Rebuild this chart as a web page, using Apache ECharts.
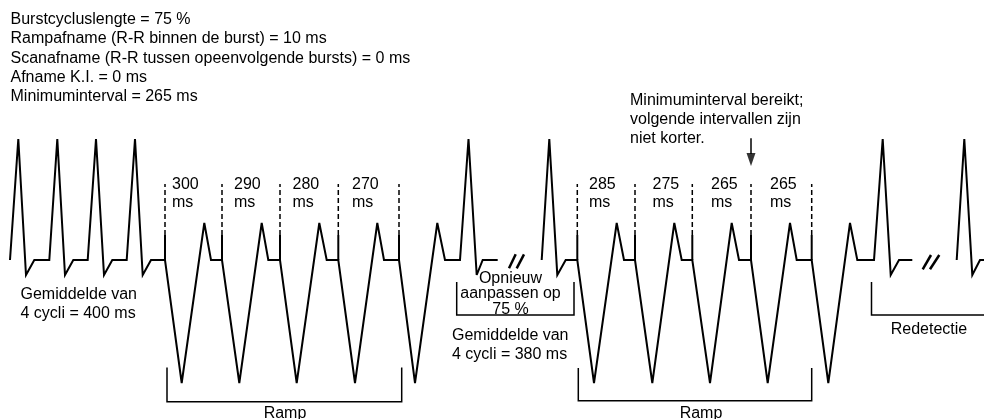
<!DOCTYPE html>
<html><head><meta charset="utf-8">
<script src="https://cdn.jsdelivr.net/npm/echarts@6/dist/echarts.min.js"></script>
<style>html,body{margin:0;padding:0;background:#fff}#c{width:984px;height:419px}</style>
</head><body><div id="c"></div>
<script>
// ECG trace: time (x) and amplitude (baseline = 0), per drawn segment
const traceA_t = [10,18.3,26,34.3, 49.3,57.3,65,73.3, 87.7,96,104,112.3, 126.7,135,142.7,151,
  165,181.7,204.3,211, 222,239.3,261.7,268.3, 280,296.7,319.3,326.7, 338.3,355,377.3,384, 399,415,437.3,445,
  460,468.5,476.7,482.7, 497.7];
const traceA_v = [0,121,-15,0, 0,121,-15,0, 0,121,-15,0, 0,121,-15,0,
  0,-123,37,0, 0,-123,37,0, 0,-123,37,0, 0,-123,37,0, 0,-123,37,0,
  0,121,-15,0, 0];
const traceB_t = [541.7,549.3,557.3,565.7, 577.3,594,616.7,624, 635,652.3,674.3,681.7, 692.3,710,731.7,739,
  751,767.7,790,796.7, 811.7,828.3,850,857.3, 874,882.7,890.7,899, 912.3];
const traceB_v = [0,121,-15,0, 0,-123,37,0, 0,-123,37,0, 0,-123,37,0,
  0,-123,37,0, 0,-123,37,0, 0,121,-15,0, 0];
const traceC_t = [956.7,964.3,972.3,980,984];
const traceC_v = [0,121,-15,0,0];

// pacing stimuli (burst pulses)
const ramp1Stimuli = [165,222,280,338.3,399];
const ramp2Stimuli = [577.3,635,692.3,751,811.7];
const ramp1Intervals = ['300','290','280','270'];
const ramp2Intervals = ['285','275','265','265'];
const stimulusHeight = 25;
const markerTop = 76;

// breaks in the trace (//)
const breakSlashes = [
  [[509,-8.3],[515.7,5.7]], [[516.7,-8.3],[524,5.7]],
  [[922.7,-9.3],[931,5]], [[930,-9.3],[939.3,5]]
];
// brackets
const bracketOpnieuw = [[456.7,-22],[456.7,-55],[574,-55],[574,-22]];
const bracketRamp1 = [[167,-107.5],[167,-141.7],[401.7,-141.7],[401.7,-107.5]];
const bracketRamp2 = [[578.3,-108],[578.3,-140.7],[811.7,-140.7],[811.7,-108]];
const bracketRedetectie = [[871.5,-22],[871.5,-55],[984,-55]];
// arrow to "minimuminterval reached"
const arrowShaft = [[751,121.7],[751,106]];
const arrowHead = [751,100.5];

const headerLines = [
  'Burstcycluslengte = 75 %',
  'Rampafname (R-R binnen de burst) = 10 ms',
  'Scanafname (R-R tussen opeenvolgende bursts) = 0 ms',
  'Afname K.I. = 0 ms',
  'Minimuminterval = 265 ms'
];
const noteLines = ['Minimuminterval bereikt;','volgende intervallen zijn','niet korter.'];

const zip = (t, v) => t.map((x, i) => [x, v[i]]);
const FONT = '16px "Liberation Sans", Arial, sans-serif';

const chart = echarts.init(document.getElementById('c'), null, {renderer: 'canvas'});

const stimSolid = [], stimDash = [];
ramp1Stimuli.concat(ramp2Stimuli).forEach(t => {
  stimSolid.push({coords: [[t, 0], [t, stimulusHeight]]});
  stimDash.push({coords: [[t, stimulusHeight], [t, markerTop]]});
});

const graphic = [];
function txt(x, y, text, align) {
  graphic.push({type: 'text', x: x, y: y, silent: true,
    style: {text: text, font: FONT, fill: '#000', textAlign: align || 'left', align: align || 'left',
            textVerticalAlign: 'middle', verticalAlign: 'middle'}});
}
const headerY = [19.7, 38.9, 58.1, 77.2, 96.4];
headerLines.forEach((s, i) => txt(10.5, headerY[i], s));
const noteY = [100.5, 119.7, 138.9];
noteLines.forEach((s, i) => txt(630, noteY[i], s));

const r1x = [172, 234, 292.5, 352];
const r2x = [589, 652.5, 711, 770];
ramp1Intervals.forEach((s, i) => { txt(r1x[i], 185, s); txt(r1x[i], 202.5, 'ms'); });
ramp2Intervals.forEach((s, i) => { txt(r2x[i], 185, s); txt(r2x[i], 202.5, 'ms'); });

txt(20.5, 294.5, 'Gemiddelde van');
txt(20.5, 313.3, '4 cycli = 400 ms');
txt(452, 336, 'Gemiddelde van');
txt(452, 354.8, '4 cycli = 380 ms');
txt(510.5, 278.5, 'Opnieuw', 'center');
txt(510.5, 294, 'aanpassen op', 'center');
txt(510.5, 309.5, '75 %', 'center');
txt(929, 329.3, 'Redetectie', 'center');
txt(285, 414, 'Ramp', 'center');
txt(701, 414, 'Ramp', 'center');

chart.setOption({
  animation: false,
  backgroundColor: '#ffffff',
  grid: {left: 0, right: 0, top: 0, bottom: 0},
  xAxis: {type: 'value', min: 0, max: 984, show: false},
  yAxis: {type: 'value', min: -159, max: 260, show: false},
  series: [
    {type: 'lines', coordinateSystem: 'cartesian2d', polyline: true, silent: true,
     lineStyle: {color: '#000', width: 2, opacity: 1, join: 'miter', miterLimit: 4},
     data: [{coords: zip(traceA_t, traceA_v)}, {coords: zip(traceB_t, traceB_v)}, {coords: zip(traceC_t, traceC_v)}]},
    {type: 'lines', coordinateSystem: 'cartesian2d', polyline: true, silent: true,
     lineStyle: {color: '#000', width: 2, opacity: 1}, data: stimSolid},
    {type: 'lines', coordinateSystem: 'cartesian2d', polyline: true, silent: true,
     lineStyle: {color: '#000', width: 1.5, opacity: 1, type: [5, 3]}, data: stimDash},
    {type: 'lines', coordinateSystem: 'cartesian2d', polyline: true, silent: true,
     lineStyle: {color: '#000', width: 2.5, opacity: 1}, data: breakSlashes.map(c => ({coords: c}))},
    {type: 'lines', coordinateSystem: 'cartesian2d', polyline: true, silent: true,
     lineStyle: {color: '#000', width: 1.5, opacity: 1},
     data: [bracketOpnieuw, bracketRamp1, bracketRamp2, bracketRedetectie, arrowShaft].map(c => ({coords: c}))},
    {type: 'scatter', silent: true, symbol: 'path://M0,0 L10,0 L5,14 Z', symbolSize: [9, 13],
     itemStyle: {color: '#000'}, data: [arrowHead]}
  ],
  graphic: graphic
});
</script></body></html>
